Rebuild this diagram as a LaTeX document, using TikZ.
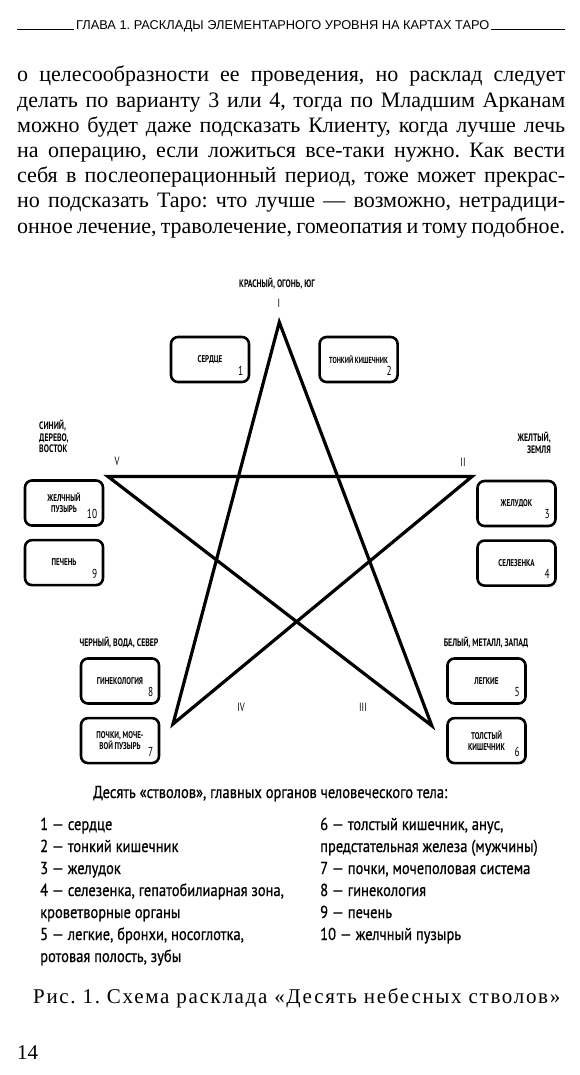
\documentclass[tikz,border=0pt]{standalone}
\usepackage{fontspec}
\setmainfont{Liberation Serif}
\newfontfamily\condsans[FakeStretch=0.84, FakeBold=0.6]{PT Sans}
\newfontfamily\diagsans[FakeStretch=0.72]{PT Sans}
\newfontfamily\headsans{Liberation Sans}
\newfontfamily\capserif[LetterSpace=8]{Liberation Serif}
\usetikzlibrary{positioning, calc}

\begin{document}
\frenchspacing
\begin{tikzpicture}[x=1pt, y=-1pt,
  organ/.style={draw, line width=2.6pt, rounded corners=7pt,
                minimum width=78pt, minimum height=45pt, inner sep=1pt,
                align=center, font=\diagsans\bfseries\fontsize{9.8}{10.5}\selectfont},
  num/.style={anchor=south east, inner sep=0pt, xshift=-7pt, yshift=8pt,
              font=\diagsans\fontsize{13}{13}\selectfont},
  elem/.style={font=\diagsans\bfseries\fontsize{10.8}{11.5}\selectfont, inner sep=0pt},
  roman/.style={font=\diagsans\fontsize{12}{13}\selectfont, inner sep=0pt},
  star/.style={line width=3.2pt, line join=miter},
  legend/.style={font=\condsans\fontsize{17.3}{22}\selectfont,
                 inner sep=0pt, anchor=base west},
  bodyline/.style={font=\fontsize{22}{25.2}\selectfont,
                   inner sep=0pt, anchor=base west}
]
  \path[fill=white, use as bounding box] (0,0) rectangle (580,1075);

  % running head
  \node[font=\headsans\fontsize{12.8}{14}\selectfont, anchor=base west,
        inner sep=2pt] (head) at (74,29.5)
    {ГЛАВА 1. РАСКЛАДЫ ЭЛЕМЕНТАРНОГО УРОВНЯ НА КАРТАХ ТАРО};
  \draw[line width=0.8pt] (17,29.5) -- (head.base west);
  \draw[line width=0.8pt] (head.base east) -- (565,29.5);

  % text above the figure
  \foreach \t [count=\i] in {
      {о целесообразности ее проведения, но расклад следует},
      {делать по варианту 3 или 4, тогда по Младшим Арканам},
      {можно будет даже подсказать Клиенту, когда лучше лечь},
      {на операцию, если ложиться все-таки нужно. Как вести},
      {себя в послеоперационный период, тоже может прекрас-},
      {но подсказать Таро: что лучше — возможно, нетрадици-},
      {онное лечение, траволечение, гомеопатия и тому подобное.}}
    \node[bodyline] (body\i) at (17,{82+25.2*(\i-1)})
      {\makebox[548pt][s]{\t}};

  % pentagram
  \coordinate (p1) at (279.3,322.2);
  \coordinate (p2) at (472,476.5);
  \coordinate (p3) at (431.8,725.7);
  \coordinate (p4) at (173,724);
  \coordinate (p5) at (108,476.5);
  \draw[star] (p1) -- (p3) -- (p5) -- (p2) -- (p4) -- cycle;

  \node[roman] (r1) at (279,303) {I};
  \node[roman] (r2) at (463,462) {II};
  \node[roman] (r3) at (363,707) {III};
  \node[roman] (r4) at (241,707) {IV};
  \node[roman] (r5) at (117,461) {V};

  \node[elem] (fire) at (277,284) {КРАСНЫЙ, ОГОНЬ, ЮГ};
  \node[elem, align=left, anchor=north west] (wood) at (39,420)
    {СИНИЙ,\\ДЕРЕВО,\\ВОСТОК};
  \node[elem, align=right, anchor=north east] (earth) at (551,432)
    {ЖЕЛТЫЙ,\\ЗЕМЛЯ};
  \node[elem] (water) at (119,643) {ЧЕРНЫЙ, ВОДА, СЕВЕР};
  \node[elem] (metal) at (486,643) {БЕЛЫЙ, МЕТАЛЛ, ЗАПАД};

  % organ boxes
  \node[organ, label={[num]south east:1}] (b1) at (210,359.5) {СЕРДЦЕ};
  \node[organ, font=\diagsans\bfseries\fontsize{8.8}{10}\selectfont,
        label={[num]south east:2}, right=68pt of b1] (b2) {ТОНКИЙ КИШЕЧНИК};
  \node[organ, label={[num]south east:3}] (b3) at (516.5,503.5) {ЖЕЛУДОК};
  \node[organ, label={[num]south east:4}, below=12pt of b3] (b4) {СЕЛЕЗЕНКА};
  \node[organ, label={[num]south east:5}] (b5) at (486.5,681) {ЛЕГКИЕ};
  \node[organ, label={[num]south east:6}, below=12pt of b5] (b6)
    {ТОЛСТЫЙ\\КИШЕЧНИК};
  \node[organ, label={[num]south east:8}] (b8) at (120,681) {ГИНЕКОЛОГИЯ};
  \node[organ, label={[num]south east:7}, below=12pt of b8] (b7)
    {ПОЧКИ, МОЧЕ-\\ВОЙ ПУЗЫРЬ};
  \node[organ, label={[num]south east:10}] (b10) at (64,503) {ЖЕЛЧНЫЙ\\ПУЗЫРЬ};
  \node[organ, label={[num]south east:9}, below=12pt of b10] (b9) {ПЕЧЕНЬ};

  % legend
  \node[legend] (legtitle) at (93,798)
    {Десять «стволов», главных органов человеческого тела:};
  \foreach \y/\t in {830/{1 — сердце}, 852/{2 — тонкий кишечник},
      874/{3 — желудок}, 896/{4 — селезенка, гепатобилиарная зона,},
      918/{кроветворные органы}, 940/{5 — легкие, бронхи, носоглотка,},
      962/{ротовая полость, зубы}}
    \node[legend] (left\y) at (40,\y) {\t};
  \foreach \y/\t in {830/{6 — толстый кишечник, анус,},
      852/{предстательная железа (мужчины)},
      874/{7 — почки, мочеполовая система}, 896/{8 — гинекология},
      918/{9 — печень}, 940/{10 — желчный пузырь}}
    \node[legend] (right\y) at (320,\y) {\t};

  % caption and folio
  \node[font=\capserif\fontsize{21}{24}\selectfont, inner sep=0pt,
        anchor=base west] (caption) at (33,1003)
    {Рис. 1. Схема расклада «Десять небесных стволов»};
  \node[font=\fontsize{21}{24}\selectfont, inner sep=0pt,
        anchor=base west] (folio) at (17,1059) {14};
\end{tikzpicture}
\end{document}
